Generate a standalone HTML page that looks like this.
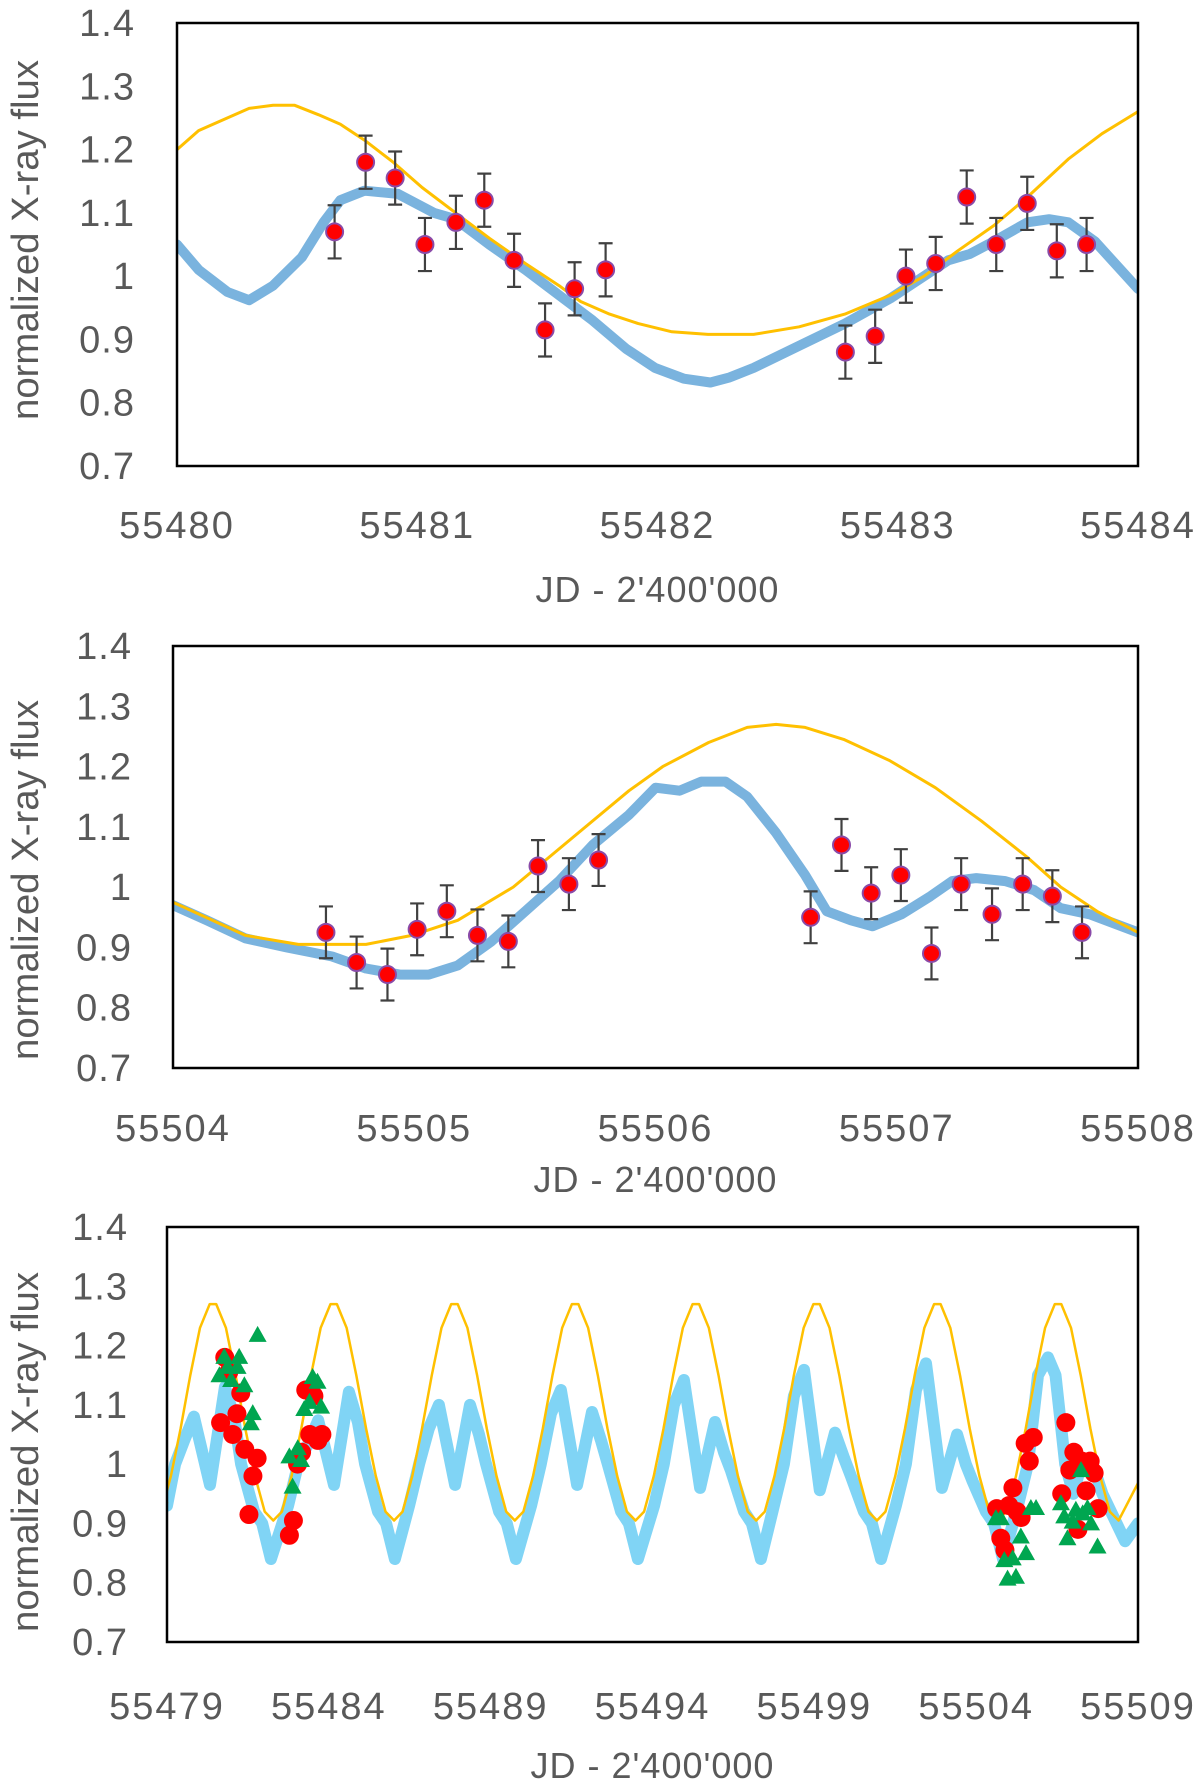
<!DOCTYPE html>
<html><head><meta charset="utf-8">
<style>
html,body{margin:0;padding:0;background:#fff;}
svg{display:block;}
text{font-family:"Liberation Sans",sans-serif;fill:#595959;}
</style></head>
<body>
<svg id="chart" width="1200" height="1785" viewBox="0 0 1200 1785" xmlns="http://www.w3.org/2000/svg"></svg>
<script>
// ---------- Panel 1 data ----------
const p1ObsX = [55480.656,55480.785,55480.908,55481.032,55481.161,55481.279,55481.403,55481.532,55481.655,55481.784,55482.782,55482.906,55483.034,55483.158,55483.287,55483.410,55483.539,55483.662,55483.786];
const p1ObsY = [1.07,1.18,1.155,1.05,1.085,1.12,1.025,0.915,0.98,1.01,0.88,0.905,1.0,1.02,1.125,1.05,1.115,1.04,1.05];
const p1Err = 0.042;
const p1BlueX = [55480,55480.09,55480.21,55480.30,55480.40,55480.52,55480.61,55480.68,55480.78,55480.92,55481.07,55481.16,55481.30,55481.45,55481.59,55481.73,55481.87,55481.99,55482.11,55482.22,55482.30,55482.40,55482.59,55482.78,55482.97,55483.11,55483.21,55483.30,55483.40,55483.54,55483.63,55483.71,55483.82,55484.0];
const p1BlueY = [1.05,1.01,0.975,0.962,0.985,1.03,1.085,1.12,1.135,1.13,1.10,1.09,1.05,1.01,0.97,0.93,0.885,0.855,0.838,0.832,0.84,0.855,0.89,0.925,0.965,1.0,1.025,1.035,1.055,1.085,1.09,1.085,1.055,0.98];
const p1OrX = [55480,55480.09,55480.21,55480.30,55480.40,55480.49,55480.59,55480.68,55480.78,55480.90,55481.02,55481.16,55481.30,55481.45,55481.59,55481.68,55481.80,55481.92,55482.06,55482.21,55482.40,55482.59,55482.78,55482.97,55483.11,55483.25,55483.40,55483.54,55483.71,55483.85,55484.0];
const p1OrY = [1.2,1.23,1.25,1.265,1.27,1.27,1.255,1.24,1.215,1.18,1.14,1.10,1.06,1.02,0.985,0.96,0.94,0.925,0.912,0.908,0.908,0.92,0.94,0.97,1.0,1.04,1.08,1.125,1.185,1.225,1.26];
const p1XTicks = [55480,55481,55482,55483,55484];

// ---------- Panel 2 data ----------
const p2ObsX = [55504.634,55504.761,55504.889,55505.012,55505.135,55505.262,55505.390,55505.513,55505.641,55505.764,55506.643,55506.771,55506.894,55507.017,55507.144,55507.267,55507.395,55507.522,55507.645,55507.768];
const p2ObsY = [0.925,0.875,0.855,0.93,0.96,0.92,0.91,1.035,1.005,1.045,0.95,1.07,0.99,1.02,0.89,1.005,0.955,1.005,0.985,0.925];
const p2Err = 0.043;
const p2BlueX = [55504,55504.14,55504.30,55504.47,55504.66,55504.80,55504.94,55505.06,55505.18,55505.32,55505.46,55505.60,55505.74,55505.89,55506.00,55506.10,55506.19,55506.29,55506.38,55506.50,55506.62,55506.71,55506.81,55506.90,55507.02,55507.14,55507.23,55507.33,55507.45,55507.57,55507.68,55507.80,55508.0];
const p2BlueY = [0.97,0.945,0.915,0.90,0.885,0.865,0.855,0.855,0.87,0.91,0.96,1.01,1.07,1.12,1.165,1.16,1.175,1.175,1.15,1.09,1.02,0.96,0.945,0.935,0.955,0.985,1.01,1.015,1.01,0.995,0.965,0.955,0.925];
const p2OrX = [55504,55504.30,55504.52,55504.80,55504.99,55505.18,55505.41,55505.65,55505.89,55506.03,55506.22,55506.38,55506.50,55506.62,55506.78,55506.97,55507.16,55507.35,55507.54,55507.68,55507.83,55508.0];
const p2OrY = [0.975,0.92,0.905,0.905,0.92,0.945,1.0,1.08,1.16,1.2,1.24,1.265,1.27,1.265,1.245,1.21,1.165,1.11,1.05,1.0,0.96,0.925];
const p2XTicks = [55504,55505,55506,55507,55508];

// ---------- Panel 3 data ----------
const p3BlueX = [55479.00,55479.25,55479.53,55479.83,55480.33,55480.79,55481.07,55481.29,55481.69,55481.94,55482.21,
 55482.74,55483.05,55483.36,55483.67,55484.16,55484.62,55484.90,55485.12,55485.52,55485.77,55486.04,
 55486.48,55486.79,55487.09,55487.40,55487.90,55488.36,55488.64,55488.86,55489.26,55489.50,55489.78,
 55490.25,55490.55,55490.86,55491.17,55491.67,55492.13,55492.41,55492.62,55493.03,55493.27,55493.55,
 55494.05,55494.35,55494.66,55494.97,55495.47,55495.93,55496.21,55496.42,55496.83,55497.07,55497.35,
 55497.75,55498.06,55498.37,55498.68,55499.17,55499.64,55499.92,55500.13,55500.53,55500.78,55501.06,
 55501.52,55501.83,55502.14,55502.45,55502.94,55503.41,55503.68,55503.90,55504.30,55504.55,55504.83,
 55505.29,55505.60,55505.91,55506.22,55506.45,55506.75,55507.00,55507.30,55507.60,55507.90,55508.60,55509.00];
const p3BlueY = [0.93,1.0,1.04,1.08,0.965,1.13,1.08,1.0,0.92,0.9,0.84,
 0.93,1.0,1.034,1.074,0.965,1.122,1.07,1.0,0.92,0.9,0.84,
 0.93,1.0,1.06,1.10,0.965,1.10,1.05,1.0,0.92,0.9,0.84,
 0.93,1.0,1.085,1.125,0.965,1.088,1.04,1.0,0.92,0.9,0.84,
 0.93,1.0,1.10,1.142,0.96,1.071,1.02,0.99,0.92,0.9,0.84,
 0.93,1.0,1.115,1.159,0.956,1.053,1.01,0.98,0.92,0.9,0.84,
 0.93,1.0,1.125,1.17,0.96,1.05,1.0,0.97,0.92,0.9,0.84,
 0.93,1.0,1.15,1.18,1.15,1.0,0.95,1.01,1.0,0.95,0.87,0.90];
const p3OrPeaks = [55480.42,55484.15,55487.88,55491.61,55495.34,55499.07,55502.80,55506.53];
const p3OrShapeDT = [-1.865,-1.6,-1.3,-1.0,-0.7,-0.4,-0.1,0.1,0.4,0.7,1.0,1.3,1.6];
const p3OrShapeV = [0.905,0.92,0.98,1.06,1.15,1.23,1.27,1.27,1.23,1.15,1.06,0.98,0.92];
const p3TriX = [55481.80,55480.77,55481.23,55480.62,55480.98,55481.39,55481.18,55480.87,55481.65,55481.59,55483.50,55483.65,55483.40,55483.76,55483.24,55483.04,55482.78,55483.14,55482.88,
 55504.61,55504.76,55505.69,55505.85,55505.38,55505.54,55504.87,55505.13,55504.97,55505.23,55506.62,55507.24,55506.72,55506.98,55507.08,55507.44,55507.55,55506.82,55507.75,55507.29];
const p3TriY = [1.218,1.181,1.181,1.150,1.142,1.133,1.164,1.164,1.086,1.069,1.147,1.139,1.105,1.097,1.093,1.027,1.013,1.007,0.962,
 0.909,0.909,0.926,0.926,0.878,0.850,0.838,0.841,0.807,0.810,0.934,0.990,0.912,0.903,0.923,0.926,0.900,0.875,0.861,0.917];
const p3XTicks = [55479,55484,55489,55494,55499,55504,55509];
const yTicks = [0.7,0.8,0.9,1.0,1.1,1.2,1.3,1.4];
const yTickLabels = ["0.7","0.8","0.9","1","1.1","1.2","1.3","1.4"];

const NS = "http://www.w3.org/2000/svg";
const svg = document.getElementById('chart');
function mk(tag, attrs, parent){
  const e = document.createElementNS(NS, tag);
  for (const k in attrs) e.setAttribute(k, attrs[k]);
  (parent||svg).appendChild(e);
  return e;
}

function panel(id, box, xmin, xmax, xTicks, labelRight, xLabelY, titleY, yTitleY){
  const g = mk('g', {});
  
  
  const sx = v => box.l + (v - xmin) / (xmax - xmin) * (box.r - box.l);
  const sy = v => box.b - (v - 0.7) / 0.7 * (box.b - box.t);
  yTicks.forEach((t, i) => {
    const tx = mk('text', {x: labelRight, y: sy(t) + 13, 'text-anchor': 'end', 'font-size': 38, 'letter-spacing': 1}, g);
    
    
    tx.textContent = yTickLabels[i];
  });
  xTicks.forEach(t => {
    const tx = mk('text', {x: sx(t), y: xLabelY, 'text-anchor': 'middle', 'font-size': 38, 'letter-spacing': 2}, g);
    
    
    tx.textContent = String(t);
  });
  const xt = mk('text', {x: (box.l + box.r) / 2, y: titleY, 'text-anchor': 'middle', 'font-size': 36, 'letter-spacing': 1}, g);
  
  
  xt.textContent = "JD - 2'400'000";
  const yt = mk('text', {x: 0, y: 0, 'text-anchor': 'middle', 'font-size': 38, textLength: 360, lengthAdjust: 'spacingAndGlyphs', transform: `translate(38,${yTitleY}) rotate(-90)`}, g);
  
  
  yt.textContent = "normalized X-ray flux";
  const clipId = id + '-clip';
  const cp = mk('clipPath', {id: clipId}, g);
  mk('rect', {x: box.l, y: box.t, width: box.r - box.l, height: box.b - box.t}, cp);
  const plot = mk('g', {'clip-path': `url(#${clipId})`}, g);
  
  
  return {g, plot, sx, sy, box};
}
function line(P, xs, ys, color, w, name){
  const d = xs.map((x, i) => (i ? 'L' : 'M') + P.sx(x).toFixed(1) + ',' + P.sy(ys[i]).toFixed(1)).join('');
  const p = mk('path', {d, fill: 'none', stroke: color, 'stroke-width': w, 'stroke-linejoin': 'round', 'stroke-linecap': 'round'}, P.plot);
  
  
}
function frame(P){
  const r = mk('rect', {x: P.box.l, y: P.box.t, width: P.box.r - P.box.l, height: P.box.b - P.box.t, fill: 'none', stroke: '#000', 'stroke-width': 2.5}, P.g);
  
  
}
function obs(P, xs, ys, err){
  xs.forEach((x, i) => {
    const cx = P.sx(x), y0 = P.sy(ys[i] - err), y1 = P.sy(ys[i] + err), cy = P.sy(ys[i]);
    const eb = mk('path', {d: `M${cx},${y0}V${y1}M${cx-7},${y0}H${cx+7}M${cx-7},${y1}H${cx+7}`, stroke: '#404040', 'stroke-width': 2.2, fill: 'none'}, P.g);
    
    
    const c = mk('circle', {cx, cy, r: 8.5, fill: '#ff0000', stroke: '#8a4aa8', 'stroke-width': 2}, P.g);
    
    
  });
}

const P1 = panel('panel-1', {l: 177, t: 23, r: 1138, b: 466}, 55480, 55484, p1XTicks, 135, 538, 602, 240);
line(P1, p1BlueX, p1BlueY, '#7ab3de', 10, 'model-line-blue');
line(P1, p1OrX, p1OrY, '#ffc000', 3, 'model-line-orange');
frame(P1);
obs(P1, p1ObsX, p1ObsY, p1Err);

const P2 = panel('panel-2', {l: 173, t: 646, r: 1138, b: 1068}, 55504, 55508, p2XTicks, 132, 1141, 1192, 880);
line(P2, p2BlueX, p2BlueY, '#7ab3de', 10, 'model-line-blue');
line(P2, p2OrX, p2OrY, '#ffc000', 3, 'model-line-orange');
frame(P2);
obs(P2, p2ObsX, p2ObsY, p2Err);

const P3 = panel('panel-3', {l: 167, t: 1227, r: 1138, b: 1642}, 55479, 55509, p3XTicks, 128, 1719, 1778, 1452);
line(P3, p3BlueX, p3BlueY, '#80d4f5', 12, 'model-line-blue');
const orX = [55479.0], orY = [0.935];
p3OrPeaks.forEach(pk => p3OrShapeDT.forEach((dt, j) => { orX.push(pk + dt); orY.push(p3OrShapeV[j]); }));
orX.push(55508.4); orY.push(0.905);
orX.push(55509.0); orY.push(0.968);
line(P3, orX, orY, '#ffc000', 2.5, 'model-line-orange');
frame(P3);
const allRedX = p1ObsX.concat(p2ObsX), allRedY = p1ObsY.concat(p2ObsY);
allRedX.forEach((x, i) => {
  const c = mk('circle', {cx: P3.sx(x), cy: P3.sy(allRedY[i]), r: 9.5, fill: '#ff0000'}, P3.g);
  
  
});
p3TriX.forEach((x, i) => {
  const cx = P3.sx(x), cy = P3.sy(p3TriY[i]);
  const t = mk('path', {d: `M${cx},${cy-9}L${cx+9},${cy+7}L${cx-9},${cy+7}Z`, fill: '#00a650'}, P3.g);
  
  
});
</script>
</body></html>
